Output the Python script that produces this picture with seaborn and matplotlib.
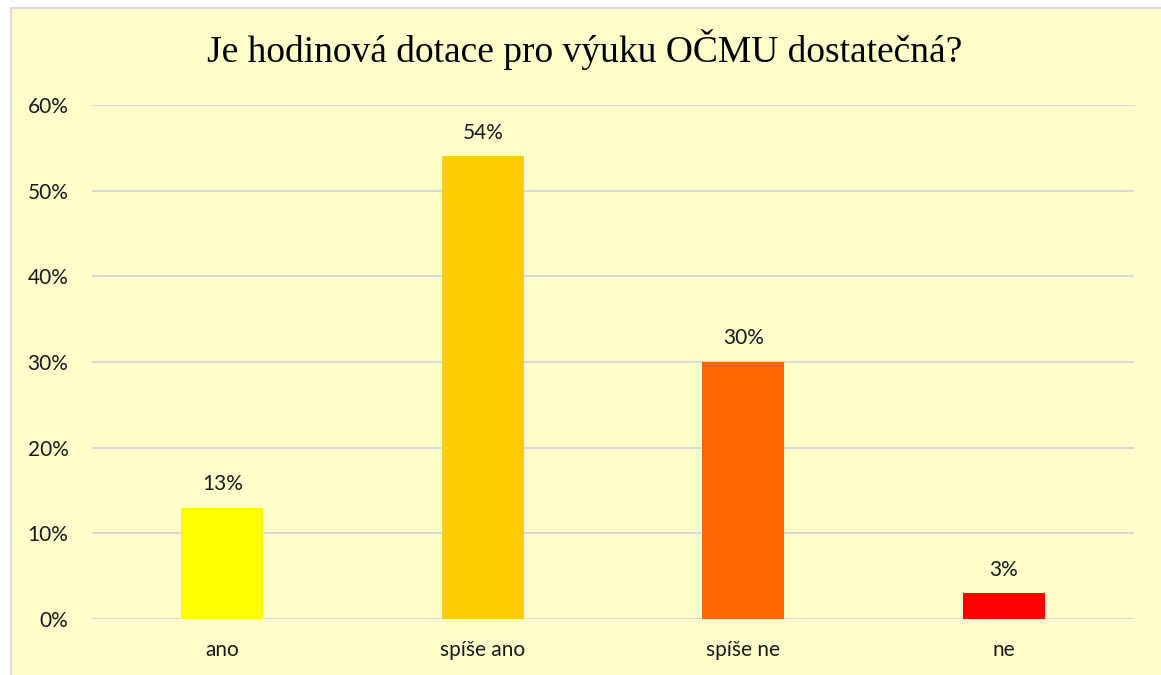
import matplotlib
matplotlib.use("Agg")
import matplotlib.pyplot as plt
import matplotlib.patches as patches
from matplotlib.ticker import FuncFormatter, MultipleLocator
import seaborn as sns
import pandas as pd

# Data
categories = ['ano', 'spíše ano', 'spíše ne', 'ne']
shares = [13, 54, 30, 3]
bar_colors = ['#FFFF00', '#FFCC00', '#FF6600', '#FF0000']

sns.set_theme(style="white")
plt.rcParams['font.family'] = ['Lato', 'DejaVu Sans']

df = pd.DataFrame({'Odpověď': categories, 'Podíl': shares})

W, H = 1161, 675
fig = plt.figure(figsize=(W / 100, H / 100), dpi=100)
fig.patch.set_facecolor('white')

# chart area frame (light yellow with gray border)
frame = patches.Rectangle((11 / W, -0.01), 1.02 - 11 / W, 1 - 8 / H + 0.01,
                          transform=fig.transFigure, facecolor='#FFFFCC',
                          edgecolor='#D9D9D9', linewidth=1.5, zorder=-10)
fig.patches.append(frame)

ax = fig.add_axes([92 / W, 1 - 619 / H, (1134 - 92) / W, (619 - 105) / H])
ax.set_facecolor('#FFFFCC')
ax.patch.set_alpha(0)

sns.barplot(data=df, x='Odpověď', y='Podíl', hue='Odpověď', palette=bar_colors,
            legend=False, width=0.315, saturation=1, linewidth=0, ax=ax, zorder=3)

ax.set_ylim(0, 60)
ax.set_xlim(-0.5, 3.5)
ax.yaxis.set_major_locator(MultipleLocator(10))
ax.yaxis.set_major_formatter(FuncFormatter(lambda v, _: f"{v:.0f}%"))
ax.grid(axis='y', color='#D9D9D9', linewidth=1.5, zorder=0)
for s in ax.spines.values():
    s.set_visible(False)
ax.tick_params(axis='both', length=0, labelsize=15, colors='#1a1a1a')
ax.tick_params(axis='y', pad=17)
ax.tick_params(axis='x', pad=15)
ax.set_xlabel('')
ax.set_ylabel('')

for i, v in enumerate(shares):
    ax.annotate(f"{v}%", (i, v), xytext=(0, 17), textcoords='offset points',
                ha='center', va='center', fontsize=15, color='#1a1a1a')

fig.text(0.5035, 1 - 50 / H, 'Je hodinová dotace pro výuku OČMU dostatečná?',
         ha='center', va='center', fontsize=27, family='Liberation Serif',
         color='black')

fig.savefig('out.png', dpi=100)
